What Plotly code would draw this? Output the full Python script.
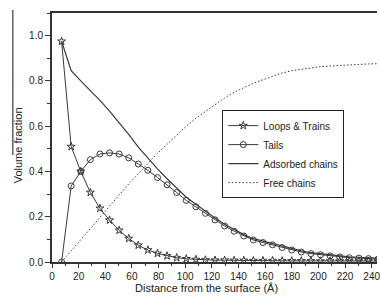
import plotly.graph_objects as go

distance = [7.2, 14.4, 21.6, 28.8, 36.0, 43.2, 50.4, 57.6, 64.8, 72.0, 79.2, 86.4,
            93.6, 100.8, 108.0, 115.2, 122.4, 129.6, 136.8, 144.0, 151.2, 158.4,
            165.6, 172.8, 180.0, 187.2, 194.4, 201.6, 208.8, 216.0, 223.2, 230.4,
            237.6, 244.8]

loops_trains = [0.975, 0.51, 0.40, 0.307, 0.237, 0.185, 0.14, 0.104, 0.074, 0.053,
                0.038, 0.027, 0.019, 0.014, 0.011, 0.009, 0.008, 0.008, 0.007, 0.007,
                0.006, 0.006, 0.006, 0.005, 0.005, 0.005, 0.005, 0.004, 0.004, 0.004,
                0.004, 0.004, 0.004, 0.004]

tails = [0.0, 0.336, 0.40, 0.452, 0.477, 0.482, 0.477, 0.46, 0.433, 0.405, 0.373,
         0.341, 0.307, 0.272, 0.244, 0.215, 0.186, 0.159, 0.136, 0.115, 0.097,
         0.086, 0.076, 0.064, 0.053, 0.044, 0.037, 0.032, 0.027, 0.022, 0.019,
         0.017, 0.015, 0.013]

adsorbed = [0.975, 0.845, 0.80, 0.759, 0.714, 0.667, 0.617, 0.564, 0.507, 0.458,
            0.411, 0.368, 0.326, 0.286, 0.255, 0.224, 0.194, 0.167, 0.143, 0.121,
            0.103, 0.092, 0.082, 0.069, 0.058, 0.049, 0.041, 0.036, 0.031, 0.026,
            0.023, 0.021, 0.019, 0.017]

free = [0.0, 0.05, 0.10, 0.15, 0.20, 0.25, 0.295, 0.345, 0.39, 0.435, 0.48, 0.52,
        0.56, 0.60, 0.635, 0.665, 0.695, 0.725, 0.75, 0.77, 0.79, 0.805, 0.82,
        0.835, 0.845, 0.852, 0.858, 0.863, 0.866, 0.869, 0.871, 0.873, 0.875, 0.876]

x_title = "Distance from the surface (Å)"
y_title = "Volume fraction"

ink = "#3a3a3a"
font = "Liberation Sans, Arial, sans-serif"

fig = go.Figure()
fig.add_trace(go.Scatter(x=distance, y=loops_trains, mode="lines+markers",
                         name="Loops & Trains",
                         line=dict(color=ink, width=1),
                         marker=dict(symbol="star-open", size=6, color=ink,
                                     line=dict(width=1, color=ink))))
fig.add_trace(go.Scatter(x=distance, y=tails, mode="lines+markers", name="Tails",
                         line=dict(color=ink, width=1),
                         marker=dict(symbol="circle-open", size=6, color=ink,
                                     line=dict(width=1, color=ink))))
fig.add_trace(go.Scatter(x=distance, y=adsorbed, mode="lines", name="Adsorbed chains",
                         line=dict(color=ink, width=1.2)))
fig.add_trace(go.Scatter(x=distance, y=free, mode="lines", name="Free chains",
                         line=dict(color=ink, width=1, dash="1.5px,2px")))

fig.update_layout(
    width=380, height=296,
    margin=dict(l=52, r=0, t=13, b=34),
    paper_bgcolor="white", plot_bgcolor="white",
    font=dict(family=font, size=10, color="#222"),
    showlegend=True,
    legend=dict(x=0.524, y=0.61, xanchor="left", yanchor="top",
                bordercolor="#222", borderwidth=1, bgcolor="white",
                font=dict(size=10, color="#222"), itemwidth=30,
                tracegroupgap=0),
    xaxis=dict(range=[0, 244], tickmode="linear", tick0=0, dtick=20,
               showgrid=False, zeroline=False, ticklabeloverflow="allow",
               showline=True, linecolor="#333", linewidth=2, mirror=True,
               ticks="outside", ticklen=4, tickwidth=1, tickcolor="#333",
               minor=dict(dtick=10, ticks="outside", ticklen=2, tickcolor="#333"),
               tickfont=dict(size=10, color="#222")),
    yaxis=dict(range=[0, 1.1], tickmode="linear", tick0=0, dtick=0.2,
               tickformat=".1f",
               showgrid=False, zeroline=False,
               showline=True, linecolor="#333", linewidth=2,
               ticks="outside", ticklen=5, tickwidth=1, tickcolor="#333",
               minor=dict(dtick=0.1, ticks="outside", ticklen=3, tickcolor="#333"),
               tickfont=dict(size=10, color="#222")),
    annotations=[
        dict(text=x_title, xref="paper", yref="paper", x=(207.5 - 52) / 328,
             y=(262 - 288) / 249, xanchor="center", yanchor="middle",
             showarrow=False, font=dict(size=11, color="#222")),
        dict(text=y_title, xref="paper", yref="paper", x=(18 - 52) / 328,
             y=(262 - 145) / 249, xanchor="center", yanchor="middle",
             textangle=-90, showarrow=False, font=dict(size=11, color="#222")),
    ],
    shapes=[dict(type="line", xref="paper", yref="paper",
                 x0=(12.5 - 52) / 328, x1=(12.5 - 52) / 328,
                 y0=(262 - 10) / 249, y1=(262 - 155) / 249,
                 line=dict(color="#111", width=1))],
)

fig.write_html("out.html",
               config={"displayModeBar": False},
               post_script="document.body.style.margin='0';"
                           "document.body.style.overflow='hidden';")
